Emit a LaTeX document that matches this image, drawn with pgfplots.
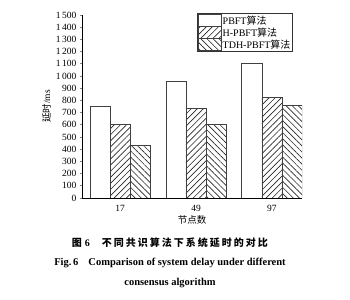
\documentclass[border=0pt]{standalone}
\usepackage{fontspec}
\setmainfont{Liberation Serif}
\newfontfamily\cjk{Noto Sans CJK SC}
\usepackage{pgfplots}
\pgfplotsset{compat=1.18}
\usetikzlibrary{patterns.meta}
\begin{document}
\begin{tikzpicture}[x=1bp,y=1bp]
\useasboundingbox (0,0) rectangle (350,300);
\begin{axis}[
  at={(82bp,102bp)}, anchor=south west,
  scale only axis, width=220bp, height=183bp,
  ybar=0pt, bar width=0.265,
  xmin=-0.503, xmax=2.397, ymin=0, ymax=1500,
  xtick={0,1,2}, xticklabels={17,49,97},
  ytick={0,100,...,1500},
  axis x line*=bottom, axis y line*=left,
  axis line style={line width=0.7bp, -},
  x tick style={draw=none},
  y tick style={line width=0.6bp},
  tick align=outside, major tick length=2.5bp,
  /pgf/number format/.cd, 1000 sep={\,}, assume math mode=true,
  /pgfplots/.cd,
  tick label style={font=\fontsize{9.5bp}{10bp}\selectfont},
  yticklabel style={xshift=0.5bp},
  xticklabel style={yshift=-1bp},
  xlabel={\cjk\fontsize{9.5bp}{10bp}\selectfont 节点数},
  ylabel={\fontsize{9.5bp}{10bp}\selectfont{\cjk 延时}/ms},
  xlabel style={yshift=3bp},
  ylabel style={yshift=-2bp},
  legend style={at={(0.959,1.011)}, anchor=north east, draw=black!80, line width=0.6bp,
    font=\fontsize{10bp}{10bp}\selectfont, inner sep=1bp, row sep=-0.5bp,
    nodes={inner sep=1.2bp}},
  legend cell align=left,
  legend image code/.code={\draw[#1] (0bp,-5.5bp) rectangle (23bp,6bp);},
]
\addplot[draw=black!75, line width=0.6bp, fill=white] coordinates {(0,750) (1,960) (2,1100)};
\addplot[draw=black!75, line width=0.6bp, pattern={Lines[angle=45,distance=4.3bp,line width=0.65bp]}, pattern color=black!85] coordinates {(0,605) (1,735) (2,822)};
\addplot[draw=black!75, line width=0.6bp, pattern={Lines[angle=-45,distance=4.3bp,line width=0.65bp]}, pattern color=black!85] coordinates {(0,428) (1,605) (2,757)};
\legend{PBFT{\cjk 算法}, H-PBFT{\cjk 算法}, TDH-PBFT{\cjk 算法}}
\end{axis}
\node[font=\cjk\bfseries\fontsize{10bp}{10bp}\selectfont] at (170,57) {图\hspace{3bp}\textbf{\fontspec{Liberation Serif}6}\hspace{12bp}{\addfontfeatures{LetterSpace=20}不同共识算法下系统延时的对比}};
\node[font=\bfseries\fontsize{10.5bp}{11bp}\selectfont] at (170,37) {Fig.\,6\hspace{10bp}Comparison of system delay under different};
\node[font=\bfseries\fontsize{10.5bp}{11bp}\selectfont] at (170,17) {consensus algorithm};
\end{tikzpicture}
\end{document}
